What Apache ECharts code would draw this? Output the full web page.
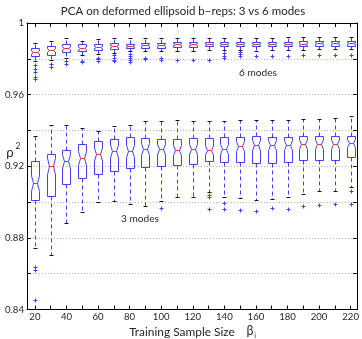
<!DOCTYPE html>
<html>
<head>
<meta charset="utf-8">
<script src="https://cdn.jsdelivr.net/npm/echarts@6/dist/echarts.min.js"></script>
<style>
  html, body { margin: 0; padding: 0; background: #fff; }
  #chart { width: 362px; height: 339px; }
</style>
</head>
<body>
<div id="chart"></div>
<script>
// training sample sizes (x positions of the boxes)
const sampleSizes = [20, 30, 40, 50, 60, 70, 80, 90, 100, 110, 120, 130, 140, 150, 160, 170, 180, 190, 200, 210, 220]
const xTicks = [20, 30, 40, 50, 60, 70, 80, 90, 100, 110, 120, 130, 140, 150, 160, 170, 180, 190, 200, 210, 220]
const xLabels = [20, 40, 60, 80, 100, 120, 140, 160, 180, 200, 220]
const yLabels = [0.84, 0.88, 0.92, 0.96, 1]

// 6 modes: whisker low, q1, median, q3, whisker high
const lo6 = [0.9785, 0.9793, 0.9807, 0.9822, 0.9826, 0.9835, 0.9841, 0.9841, 0.9841, 0.9841, 0.9841, 0.9848, 0.9848, 0.9848, 0.9844, 0.9848, 0.9852, 0.9852, 0.9854, 0.9854, 0.9854]
const q1_6 = [0.9815, 0.9824, 0.9837, 0.9844, 0.9850, 0.9857, 0.9859, 0.9861, 0.9861, 0.9867, 0.9867, 0.9869, 0.9869, 0.9869, 0.9869, 0.9870, 0.9870, 0.9870, 0.9872, 0.9872, 0.9872]
const med6 = [0.9839, 0.9848, 0.9859, 0.9863, 0.9867, 0.9872, 0.9872, 0.9876, 0.9876, 0.9881, 0.9881, 0.9881, 0.9881, 0.9881, 0.9881, 0.9883, 0.9883, 0.9885, 0.9887, 0.9887, 0.9887]
const q3_6 = [0.9863, 0.9872, 0.9881, 0.9881, 0.9881, 0.9887, 0.9885, 0.9891, 0.9891, 0.9894, 0.9894, 0.9894, 0.9894, 0.9894, 0.9894, 0.9896, 0.9896, 0.9900, 0.9900, 0.9900, 0.9900]
const hi6 = [0.9889, 0.9902, 0.9915, 0.9902, 0.9909, 0.9915, 0.9915, 0.9915, 0.9915, 0.9919, 0.9919, 0.9919, 0.9919, 0.9919, 0.9919, 0.9919, 0.9922, 0.9922, 0.9922, 0.9922, 0.9922]
const out6 = [
  [20, 0.9763], [20, 0.9744], [20, 0.9726], [20, 0.9700], [20, 0.9689],
  [30, 0.9770], [30, 0.9752],
  [40, 0.9785], [40, 0.9770],
  [50, 0.9789], [50, 0.9780],
  [60, 0.9807], [60, 0.9798], [60, 0.9789],
  [70, 0.9819], [70, 0.9807], [70, 0.9796], [70, 0.9789],
  [80, 0.9826], [80, 0.9815], [80, 0.9804], [80, 0.9793], [80, 0.9781],
  [90, 0.9807], [90, 0.9798],
  [100, 0.9807], [100, 0.9796],
  [110, 0.9793], [120, 0.9793], [130, 0.9793],
  [140, 0.9830], [140, 0.9815], [140, 0.9807],
  [150, 0.9837], [150, 0.9826], [150, 0.9815],
  [160, 0.9817], [170, 0.9815], [180, 0.9815], [190, 0.9819], [200, 0.9819], [210, 0.9819], [220, 0.9822]
]

// 3 modes
const lo3 = [0.8743, 0.8704, 0.8881, 0.8946, 0.8998, 0.9007, 0.8987, 0.8980, 0.9004, 0.9026, 0.9026, 0.9057, 0.9030, 0.9020, 0.9011, 0.9015, 0.9030, 0.9043, 0.9061, 0.9061, 0.9085]
const q1_3 = [0.9009, 0.9032, 0.9102, 0.9135, 0.9157, 0.9172, 0.9193, 0.9196, 0.9204, 0.9209, 0.9215, 0.9228, 0.9222, 0.9222, 0.9219, 0.9220, 0.9224, 0.9233, 0.9233, 0.9237, 0.9252]
const med3 = [0.9109, 0.9202, 0.9228, 0.9246, 0.9269, 0.9285, 0.9287, 0.9296, 0.9294, 0.9293, 0.9298, 0.9293, 0.9298, 0.9311, 0.9320, 0.9320, 0.9317, 0.9326, 0.9324, 0.9324, 0.9330]
const q3_3 = [0.9230, 0.9270, 0.9293, 0.9322, 0.9341, 0.9352, 0.9361, 0.9359, 0.9354, 0.9352, 0.9359, 0.9359, 0.9363, 0.9363, 0.9367, 0.9363, 0.9363, 0.9367, 0.9370, 0.9370, 0.9370]
const hi3 = [0.9367, 0.9428, 0.9428, 0.9415, 0.9396, 0.9422, 0.9428, 0.9452, 0.9454, 0.9457, 0.9450, 0.9452, 0.9450, 0.9456, 0.9459, 0.9459, 0.9459, 0.9465, 0.9465, 0.9470, 0.9478]
const out3 = [
  [20, 0.8640], [20, 0.8620], [20, 0.8452],
  [100, 0.8967],
  [130, 0.9039], [130, 0.9026], [130, 0.8959],
  [140, 0.8993], [140, 0.8959],
  [150, 0.8956], [160, 0.8952], [170, 0.8965], [180, 0.8963],
  [190, 0.8976], [200, 0.8981], [210, 0.8989],
  [220, 0.9063], [220, 0.8991]
]

const TITLE = 'PCA on deformed ellipsoid b\u2013reps: 3 vs 6 modes'
const BLUE = '#4040f4'
const RED = '#f03030'
const INK = '#262626'
const FONT = 'Lato'

// font size that makes a text as wide as in the picture
const measureCtx = document.createElement('canvas').getContext('2d')
const fitSize = (text, width) => {
  measureCtx.font = '100px ' + FONT
  return Math.round(1000 * width / measureCtx.measureText(text).width) / 10
}
const titleSize = fitSize(TITLE, 245)
const nameSize = fitSize('Training Sample Size', 106)
const noteSize = fitSize('6 modes', 38)
const tickSize = fitSize('0.84', 19)

const toBoxes = (lo, q1, md, q3, hi) => sampleSizes.map((x, i) => [x, lo[i], q1[i], md[i], q3[i], hi[i]])

const snap = v => Math.round(v) + 0.5

// notched box like matlab boxplot
const renderBox = (params, api) => {
  const x = api.value(0)
  const cx = snap(api.coord([x, 0.9])[0])
  const lo = snap(api.coord([x, api.value(1)])[1])
  const q1 = snap(api.coord([x, api.value(2)])[1])
  const md = snap(api.coord([x, api.value(3)])[1])
  const q3 = snap(api.coord([x, api.value(4)])[1])
  const hi = snap(api.coord([x, api.value(5)])[1])
  const hw = 4, nw = 2
  const nh = (q1 - q3) * 0.2
  const pts = [
    [cx - hw, q3], [cx + hw, q3], [cx + hw, md - nh], [cx + nw, md], [cx + hw, md + nh],
    [cx + hw, q1], [cx - hw, q1], [cx - hw, md + nh], [cx - nw, md], [cx - hw, md - nh]
  ]
  const dash = { stroke: BLUE, lineWidth: 1, lineDash: [4, 3] }
  const cap = { stroke: '#111', lineWidth: 1 }
  return {
    type: 'group',
    children: [
      { type: 'line', shape: { x1: cx, y1: q3, x2: cx, y2: hi }, style: dash },
      { type: 'line', shape: { x1: cx, y1: q1, x2: cx, y2: lo }, style: dash },
      { type: 'line', shape: { x1: cx - 2, y1: hi, x2: cx + 2, y2: hi }, style: cap },
      { type: 'line', shape: { x1: cx - 2, y1: lo, x2: cx + 2, y2: lo }, style: cap },
      { type: 'polygon', shape: { points: pts }, style: { fill: 'none', stroke: BLUE, lineWidth: 1 } },
      { type: 'line', shape: { x1: cx - nw, y1: md, x2: cx + nw, y2: md }, style: { stroke: RED, lineWidth: 1 } }
    ]
  }
}

const renderPlus = (params, api) => {
  const p = api.coord([api.value(0), api.value(1)])
  const cx = snap(p[0]), cy = snap(p[1])
  const st = { stroke: BLUE, lineWidth: 1 }
  return {
    type: 'group',
    children: [
      { type: 'line', shape: { x1: cx - 2, y1: cy, x2: cx + 2, y2: cy }, style: st },
      { type: 'line', shape: { x1: cx, y1: cy - 2, x2: cx, y2: cy + 2 }, style: st }
    ]
  }
}

const label = (text, x, y, size) => ({
  type: 'text',
  x: x,
  y: y,
  style: { text: text, fontSize: size, fontFamily: FONT, fill: INK, align: 'center', verticalAlign: 'middle' }
})

const chart = echarts.init(document.getElementById('chart'), null, { renderer: 'canvas' })

const xAxisBase = {
  type: 'value',
  min: 15,
  max: 224,
  splitLine: { show: false },
  axisLine: { show: true, onZero: false, lineStyle: { color: '#000', width: 1 } },
  axisTick: { show: true, inside: true, length: 4, customValues: xTicks, lineStyle: { color: '#000' } }
}
const yAxisBase = {
  type: 'value',
  min: 0.84,
  max: 1,
  interval: 0.02,
  axisLine: { show: true, onZero: false, lineStyle: { color: '#000', width: 1 } },
  axisTick: { show: true, inside: true, length: 4, lineStyle: { color: '#000' } }
}

chart.setOption({
  animation: false,
  textStyle: { fontFamily: FONT },
  grid: { left: 27, right: 5, top: 23, height: 286.5 },
  xAxis: [
    {
      ...xAxisBase,
      position: 'bottom',
      axisLabel: { customValues: xLabels, fontSize: tickSize, color: INK, margin: 2, fontFamily: FONT }
    },
    { ...xAxisBase, position: 'top', axisLabel: { show: false } }
  ],
  yAxis: [
    {
      ...yAxisBase,
      position: 'left',
      splitLine: { show: true, lineStyle: { color: '#b4b4b4', type: [1, 2], width: 1 } },
      axisLabel: {
        customValues: yLabels,
        fontSize: tickSize,
        color: INK,
        margin: 3,
        fontFamily: FONT,
        formatter: v => (v >= 0.999 ? '1' : v.toFixed(2))
      }
    },
    { ...yAxisBase, position: 'right', splitLine: { show: false }, axisLabel: { show: false } }
  ],
  graphic: [
    label(TITLE, 183, 11, titleSize),
    label('\u03c1', 10, 153, nameSize * 1.1),
    label('2', 18, 146, nameSize * 0.72),
    label('Training Sample Size', 182, 332, nameSize),
    label('\u03b2', 250, 331, nameSize * 1.05),
    label('i', 255, 336, nameSize * 0.6),
    label('6 modes', 258, 73, noteSize),
    label('3 modes', 140, 219, noteSize)
  ],
  series: [
    {
      name: '6 modes',
      type: 'custom',
      renderItem: renderBox,
      encode: { x: 0, y: [1, 2, 3, 4, 5] },
      data: toBoxes(lo6, q1_6, med6, q3_6, hi6),
      z: 3
    },
    {
      name: '3 modes',
      type: 'custom',
      renderItem: renderBox,
      encode: { x: 0, y: [1, 2, 3, 4, 5] },
      data: toBoxes(lo3, q1_3, med3, q3_3, hi3),
      z: 3
    },
    {
      name: '6 modes outliers',
      type: 'custom',
      renderItem: renderPlus,
      encode: { x: 0, y: 1 },
      data: out6,
      z: 4
    },
    {
      name: '3 modes outliers',
      type: 'custom',
      renderItem: renderPlus,
      encode: { x: 0, y: 1 },
      data: out3,
      z: 4
    }
  ]
})
</script>
</body>
</html>
